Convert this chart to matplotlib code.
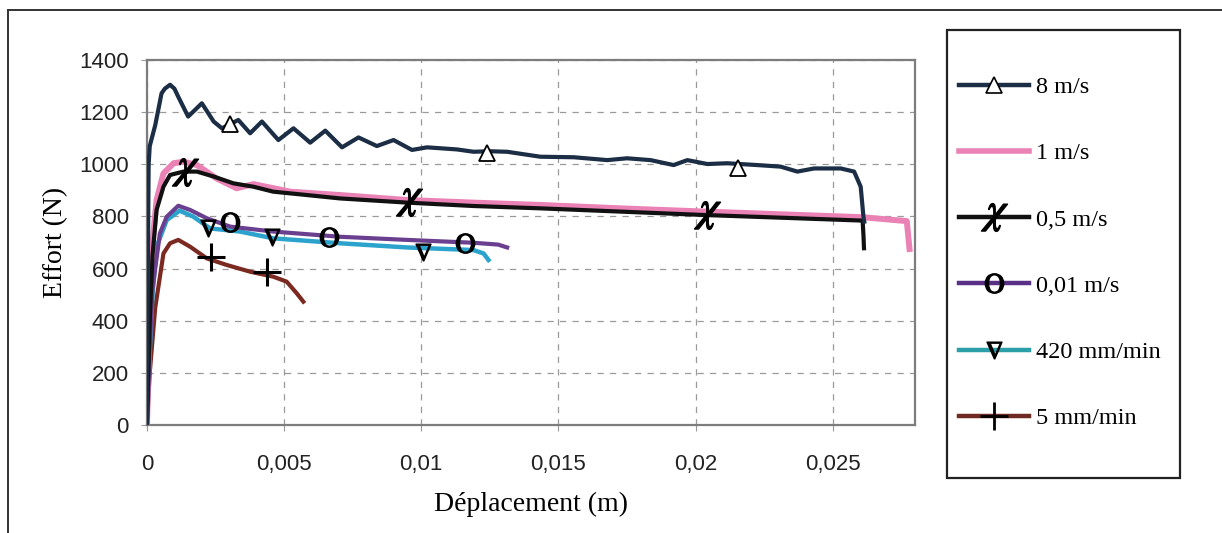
import numpy as np
import matplotlib
matplotlib.use("Agg")
import matplotlib.pyplot as plt
from matplotlib.lines import Line2D
from matplotlib.patches import Rectangle
from matplotlib.ticker import FuncFormatter, MultipleLocator

plt.rcParams['mathtext.fontset'] = 'stix'

# curves (displacement in m, force in N)
x_8 = [0, 0.00003, 0.00006, 0.0001, 0.0002, 0.0003, 0.00041, 0.00053, 0.00065, 0.00084,
       0.001, 0.00114, 0.0015, 0.002, 0.00243, 0.00273, 0.00333, 0.00376, 0.00419, 0.00479,
       0.00534, 0.00595, 0.0065, 0.00711, 0.00771, 0.00838, 0.00899, 0.00966, 0.01021, 0.0113,
       0.01191, 0.0125, 0.01313, 0.01434, 0.01556, 0.01678, 0.0175, 0.01836, 0.0192, 0.0197,
       0.02043, 0.02115, 0.02225, 0.0231, 0.02371, 0.02432, 0.02529, 0.02578, 0.02602, 0.02612,
       0.02615]
y_8 = [0, 600, 1000, 1070, 1110, 1150, 1208, 1272, 1290, 1305,
       1290, 1259, 1183, 1234, 1164, 1138, 1170, 1119, 1164, 1093,
       1138, 1083, 1129, 1065, 1103, 1070, 1093, 1055, 1065, 1057,
       1048, 1050, 1048, 1029, 1027, 1016, 1023, 1016, 997, 1016,
       1001, 1004, 997, 991, 972, 984, 984, 972, 914, 799,
       780]

x_1 = [0, 0.0001, 0.0002, 0.00035, 0.0006, 0.00097, 0.00133, 0.00182, 0.00255, 0.00327,
       0.00388, 0.00522, 0.00704, 0.00948, 0.0119, 0.01434, 0.0175, 0.0205, 0.02609, 0.0277,
       0.02775, 0.0278]
y_1 = [0, 450, 700, 863, 965, 1004, 1010, 997, 945, 908,
       924, 895, 882, 863, 853, 844, 830, 818, 797, 782,
       730, 675]

x_05 = [0, 0.0001, 0.0002, 0.00035, 0.0006, 0.00084, 0.00133, 0.00182, 0.00243, 0.00315,
        0.00388, 0.0046, 0.00583, 0.00704, 0.00948, 0.0119, 0.01434, 0.02019, 0.02609, 0.02612,
        0.02614]
y_05 = [0, 400, 650, 825, 914, 959, 972, 972, 953, 927,
        914, 895, 882, 869, 853, 840, 831, 806, 784, 730,
        678]

x_001 = [0, 0.0001, 0.0002, 0.00047, 0.00072, 0.00114, 0.00157, 0.00218, 0.00303, 0.0046,
         0.00704, 0.00948, 0.0119, 0.0128, 0.01313]
y_001 = [0, 300, 520, 735, 799, 841, 825, 793, 761, 742,
         722, 710, 699, 692, 681]

x_420 = [0, 0.0001, 0.0002, 0.00035, 0.00072, 0.00119, 0.00169, 0.0023, 0.00339, 0.0046,
         0.00704, 0.00948, 0.0119, 0.01227, 0.01245]
y_420 = [0, 280, 500, 684, 786, 822, 799, 754, 742, 716,
         697, 681, 671, 658, 633]

x_5 = [0, 0.0001, 0.0003, 0.0006, 0.00084, 0.00114, 0.00157, 0.00218, 0.0029, 0.00376,
       0.0046, 0.00509, 0.00546, 0.0057]
y_5 = [0, 200, 450, 658, 697, 710, 684, 639, 614, 588,
       569, 550, 505, 473]

# marker positions along the curves
mk_8_x = [0.00303, 0.0124, 0.02153]
mk_8_y = [1155, 1043, 986]
mk_05_x = [0.00139, 0.00956, 0.0204]
mk_05_y = [970, 855, 805]
mk_001_x = [0.00303, 0.00664, 0.0116]
mk_001_y = [779, 721, 698]
mk_420_x = [0.00223, 0.00456, 0.01007]
mk_420_y = [756, 721, 664]
mk_5_x = [0.00234, 0.00438]
mk_5_y = [644, 587]

labels = ['8 m/s', '1 m/s', '0,5 m/s', '0,01 m/s', '420 mm/min', '5 mm/min']
colors = ['#1c2e45', '#ea82b6', '#111111', '#6b3f8f', '#2ba3cc', '#7b2a22']
leg_colors = ['#1c2e45', '#ea82b6', '#111111', '#5a2f86', '#2a9fa8', '#6e2a22']

fig = plt.figure(figsize=(12.22, 5.33), dpi=100)
ax = fig.add_axes([147/1222, 1 - 425/533, (915-147)/1222, (425-60)/533])

serif = 'Liberation Serif'
sans = 'Liberation Sans'

ax.plot(x_5, y_5, color=colors[5], lw=3.0, zorder=3, solid_joinstyle='round')
ax.plot(x_420, y_420, color=colors[4], lw=3.2, zorder=3, solid_joinstyle='round')
ax.plot(x_001, y_001, color=colors[3], lw=3.0, zorder=4, solid_joinstyle='round')
ax.plot(x_1, y_1, color=colors[1], lw=4.3, zorder=3, solid_joinstyle='round')
ax.plot(x_05, y_05, color=colors[2], lw=3.0, zorder=4, solid_joinstyle='round')
ax.plot(x_8, y_8, color=colors[0], lw=3.0, zorder=4, solid_joinstyle='round')

mk = dict(ls='none', color='black', zorder=6)
ax.plot(mk_8_x, mk_8_y, marker='^', ms=12, mfc='white', mec='black', mew=1.3, **mk)
ax.plot(mk_05_x, mk_05_y, marker=r'$\chi$', ms=20, **mk)
ax.plot(mk_001_x, mk_001_y, marker=r'$\mathrm{O}$', ms=14, **mk)
ax.plot(mk_420_x, mk_420_y, marker=r'$\nabla$', ms=12, **mk)
ax.plot(mk_5_x, mk_5_y, marker='+', ms=20, mew=2.2, **mk)

ax.set_xlim(0, 0.028)
ax.set_ylim(0, 1400)
ax.xaxis.set_major_locator(MultipleLocator(0.005))
ax.yaxis.set_major_locator(MultipleLocator(200))
ax.xaxis.set_major_formatter(FuncFormatter(lambda v, p: ('%g' % round(v, 4)).replace('.', ',')))
ax.yaxis.set_major_formatter(FuncFormatter(lambda v, p: '%d' % v))

ax.grid(True, color='#9a9a9a', lw=0.9, ls=(0, (5, 5)))
ax.set_axisbelow(True)
for s in ax.spines.values():
    s.set_color('#7d7d7d')
    s.set_linewidth(1.6)
ax.tick_params(axis='both', direction='out', length=4, color='#9a9a9a', labelsize=16)
ax.tick_params(axis='x', pad=17)
ax.tick_params(axis='y', pad=9)
for t in ax.get_xticklabels() + ax.get_yticklabels():
    t.set_fontfamily(sans)
    t.set_color('#222222')

ax.set_xlabel('Déplacement (m)', fontfamily=serif, fontsize=20, labelpad=12)
ax.set_ylabel('Effort (N)', fontfamily=serif, fontsize=20, labelpad=8)

# legend
handles = [
    Line2D([], [], color=leg_colors[0], lw=3.2, marker='^', ms=11, mfc='white', mec='black', mew=1.2),
    Line2D([], [], color=leg_colors[1], lw=4.0),
    Line2D([], [], color=leg_colors[2], lw=3.2, marker=r'$\chi$', ms=20, mec='black', mfc='black'),
    Line2D([], [], color=leg_colors[3], lw=3.2, marker=r'$\mathrm{O}$', ms=14, mec='black', mfc='black'),
    Line2D([], [], color=leg_colors[4], lw=3.2, marker=r'$\nabla$', ms=12, mec='black', mfc='black'),
    Line2D([], [], color=leg_colors[5], lw=3.2, marker='+', ms=20, mew=2, mec='black'),
]
leg = fig.legend(handles, labels, loc='upper left', bbox_to_anchor=(959/1222, 1 - 76/533),
                 frameon=False, borderpad=0, borderaxespad=0, handlelength=2.9,
                 handletextpad=0.25, labelspacing=1.82, prop={'family': serif, 'size': 17.5})

fig.patches.append(Rectangle((947/1222, 1 - 478/533), (1180-947)/1222, (478-30)/533,
                             transform=fig.transFigure, fill=False, ec='#222222', lw=1.6))
fig.lines.append(Line2D([8/1222, 1], [1 - 10/533, 1 - 10/533], transform=fig.transFigure,
                        color='#333333', lw=1.4))
fig.lines.append(Line2D([8/1222, 8/1222], [0, 1 - 10/533], transform=fig.transFigure,
                        color='#333333', lw=1.4))

fig.savefig('out.png', dpi=100)
